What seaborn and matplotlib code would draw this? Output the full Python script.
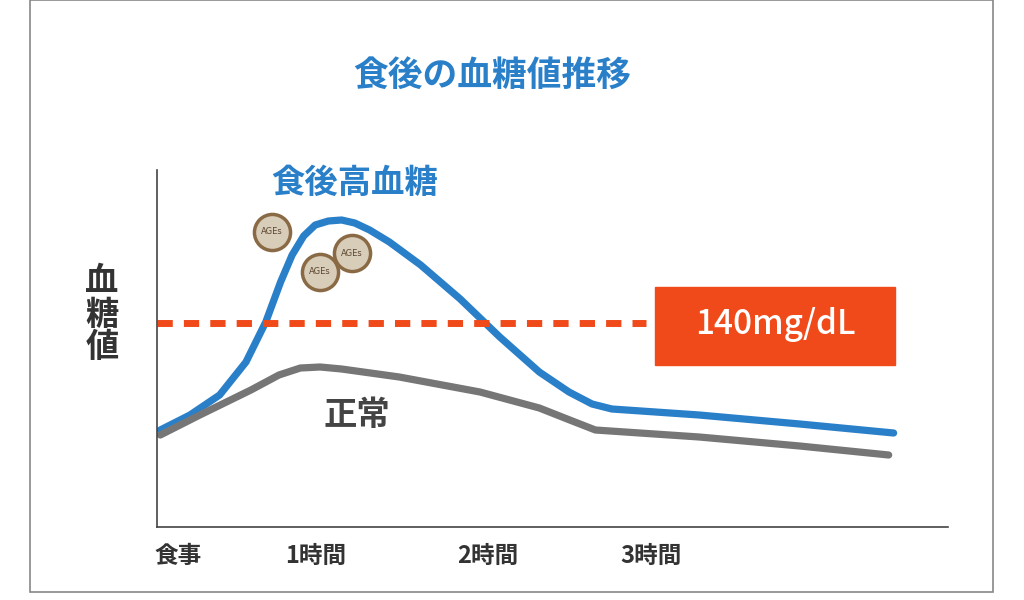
import numpy as np
import pandas as pd
import seaborn as sns
import matplotlib.pyplot as plt
from matplotlib.patches import Rectangle

plt.rcParams["font.family"] = "Noto Sans CJK JP"

# time axis (hours after meal) and relative glucose level
tick_pos = [0.11, 0.94, 1.99, 2.98]
tick_labels = ["食事", "1時間", "2時間", "3時間"]

high_t = [0.0, 0.18, 0.36, 0.52, 0.64, 0.73, 0.80, 0.87, 0.94, 1.02, 1.10, 1.18, 1.27,
          1.39, 1.58, 1.82, 2.06, 2.30, 2.48, 2.62, 2.74, 3.27, 3.88, 4.45]
high_y = [97, 112, 132, 165, 205, 245, 272, 291, 302, 306, 307, 304, 297,
          285, 262, 228, 190, 155, 135, 123, 118, 112, 103, 94]
normal_t = [0.0, 0.24, 0.55, 0.72, 0.85, 0.97, 1.10, 1.45, 1.94, 2.30, 2.50, 2.64,
            3.27, 3.88, 4.42]
normal_y = [92, 112, 137, 152, 159, 160, 158, 150, 135, 119, 106, 97, 90, 81, 72]
threshold = 204
threshold_label = "140mg/dL"

df = pd.concat([
    pd.DataFrame({"t": high_t, "y": high_y, "kind": "食後高血糖"}),
    pd.DataFrame({"t": normal_t, "y": normal_y, "kind": "正常"}),
])

fig = plt.figure(figsize=(10.24, 6), dpi=100)
fig.patches.append(Rectangle((30 / 1024, 8 / 600), 963 / 1024, 592 / 600,
                             transform=fig.transFigure, fill=False,
                             edgecolor="#888888", linewidth=1.2))
ax = fig.add_axes([157 / 1024, 73 / 600, 791 / 1024, 357 / 600])

sns.lineplot(data=df, x="t", y="y", hue="kind", sort=False,
             palette={"食後高血糖": "#2a7fc9", "正常": "#767676"},
             linewidth=5.2, legend=False, ax=ax,
             solid_joinstyle="round", solid_capstyle="round")
ax.plot([-0.02, 2.95], [threshold, threshold], color="#f04a1a",
        linewidth=5, dashes=(2.2, 1.6))

ax.set_xlim(-0.02, 4.78)
ax.set_ylim(0, 357)
ax.set_xticks(tick_pos)
ax.set_xticklabels(tick_labels, fontsize=17, fontweight="bold", color="#333333")
ax.tick_params(axis="x", length=0, pad=12)
ax.set_yticks([])
ax.set_xlabel("")
ax.set_ylabel("")
for s in ["top", "right"]:
    ax.spines[s].set_visible(False)
for s in ["left", "bottom"]:
    ax.spines[s].set_color("#444444")
    ax.spines[s].set_linewidth(1.2)

# threshold box
fig.patches.append(Rectangle((655 / 1024, 235 / 600), 240 / 1024, 78 / 600,
                             transform=fig.transFigure, color="#f04a1a"))
fig.text(775 / 1024, 276 / 600, threshold_label, color="white", fontsize=24,
         fontweight="medium", ha="center", va="center")

fig.text(492 / 1024, 525 / 600, "食後の血糖値推移", color="#2a7fc9", fontsize=25,
         fontweight="bold", ha="center", va="center")
fig.text(355 / 1024, 417 / 600, "食後高血糖", color="#2a7fc9", fontsize=24,
         fontweight="bold", ha="center", va="center")
fig.text(357 / 1024, 185 / 600, "正常", color="#444444", fontsize=24,
         fontweight="bold", ha="center", va="center")
fig.text(102 / 1024, 285 / 600, "血\n糖\n値", color="#333333", fontsize=24,
         fontweight="bold", ha="center", va="center", linespacing=1.0)

# AGEs badges
for bx, by in [(272, 232), (352, 253), (320, 272)]:
    fig.add_artist(plt.Line2D([bx / 1024], [(600 - by) / 600], marker="o", markersize=26,
                              markerfacecolor="#d8cdb8", markeredgecolor="#8a6a45",
                              markeredgewidth=2.5, transform=fig.transFigure))
    fig.text(bx / 1024, (600 - by) / 600, "AGEs", fontsize=6, color="#5a4630",
             ha="center", va="center", fontfamily="DejaVu Sans")

fig.savefig("out.png", dpi=100)
